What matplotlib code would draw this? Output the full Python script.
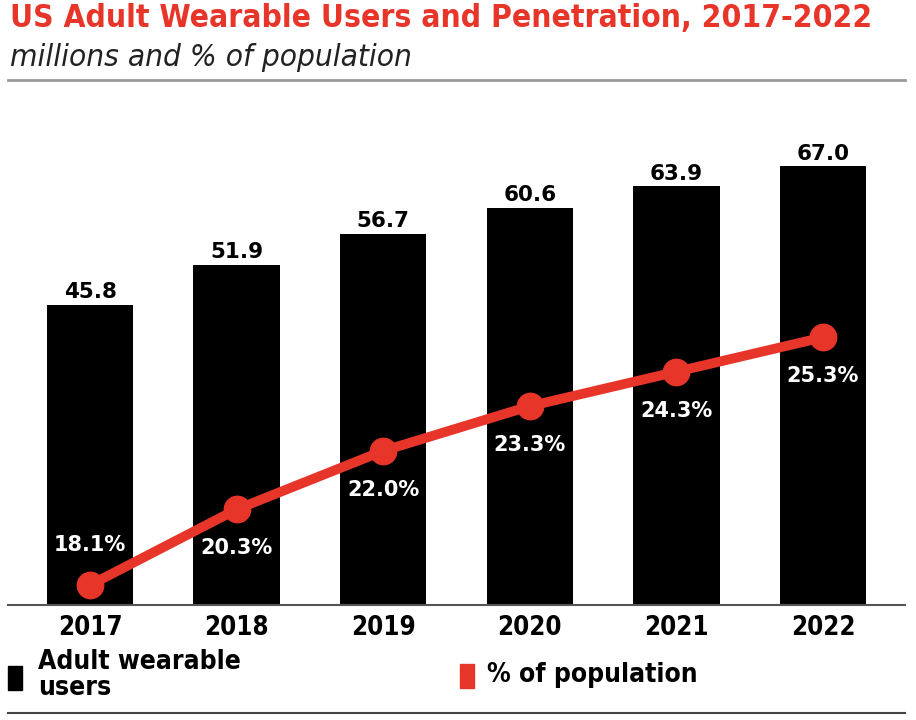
import matplotlib
matplotlib.use("Agg")
import matplotlib.pyplot as plt
from matplotlib.patches import Rectangle
from matplotlib.lines import Line2D

years = ["2017", "2018", "2019", "2020", "2021", "2022"]
users = [45.8, 51.9, 56.7, 60.6, 63.9, 67.0]
penetration = [18.1, 20.3, 22.0, 23.3, 24.3, 25.3]

RED = "#e8352a"
narrow = ["DejaVu Sans"]
wide = ["DejaVu Sans"]

fig = plt.figure(figsize=(9.16, 7.2), dpi=100)
W, H = 916, 720

# axes area in pixels: x 8..905, y 100..605
ax = fig.add_axes([8 / W, (H - 605) / H, (905 - 8) / W, (605 - 100) / H])
x = list(range(len(years)))
ax.bar(x, users, width=0.59, color="black", zorder=2)
ax.set_xlim(-0.56, len(years) - 0.44)
ax.set_ylim(0, 77.1)
for xi, v in zip(x, users):
    ax.text(xi, v + 0.4, f"{v:.1f}", ha="center", va="bottom",
            fontsize=15.5, fontweight="bold", family=wide, color="black")

ax.set_xticks(x)
ax.set_xticklabels(years, fontsize=18.5, fontweight="bold", family=narrow,
                   fontstretch="condensed")
ax.tick_params(axis="x", length=0, pad=7)
ax.set_yticks([])
for s in ["top", "right", "left"]:
    ax.spines[s].set_visible(False)
ax.spines["bottom"].set_color("#555555")
ax.spines["bottom"].set_linewidth(1.5)

ax2 = ax.twinx()
ax2.set_ylim(17.52, 32.2)
ax2.plot(x, penetration, color=RED, linewidth=7, marker="o", markersize=19,
         solid_capstyle="round", zorder=3)
ax2.set_yticks([])
for s in ["top", "right", "left", "bottom"]:
    ax2.spines[s].set_visible(False)
for i, (xi, p) in enumerate(zip(x, penetration)):
    dy = 1.17 if i == 0 else -1.13
    ax2.text(xi, p + dy, f"{p:.1f}%", ha="center", va="center",
             fontsize=15, fontweight="bold", family=wide, color="white")

# title and subtitle
fig.text(10 / W, 1 - 19 / H, "US Adult Wearable Users and Penetration, 2017-2022",
         ha="left", va="center", fontsize=22.8, fontweight="bold", family=narrow,
         fontstretch="condensed", color=RED)
fig.text(10 / W, 1 - 57 / H, "millions and % of population",
         ha="left", va="center", fontsize=22.6, style="italic", family=narrow,
         fontstretch="condensed", color="#222222")

# rules
fig.add_artist(Line2D([8 / W, 905 / W], [1 - 80 / H, 1 - 80 / H], color="#999999", linewidth=2))
fig.add_artist(Line2D([8 / W, 905 / W], [1 - 713 / H, 1 - 713 / H], color="#444444", linewidth=1.5))

# legend
fig.add_artist(Rectangle((8 / W, 1 - 690 / H), 14 / W, 24 / H, color="black", transform=fig.transFigure))
fig.text(38 / W, 1 - 675 / H, "Adult wearable\nusers", ha="left", va="center",
         fontsize=19, fontweight="bold", family=narrow, fontstretch="condensed",
         linespacing=1.0)
fig.add_artist(Rectangle((460 / W, 1 - 688 / H), 14 / W, 24 / H, color=RED, transform=fig.transFigure))
fig.text(487 / W, 1 - 675 / H, "% of population", ha="left", va="center",
         fontsize=19, fontweight="bold", family=narrow, fontstretch="condensed")

fig.savefig("out.png", dpi=100)
